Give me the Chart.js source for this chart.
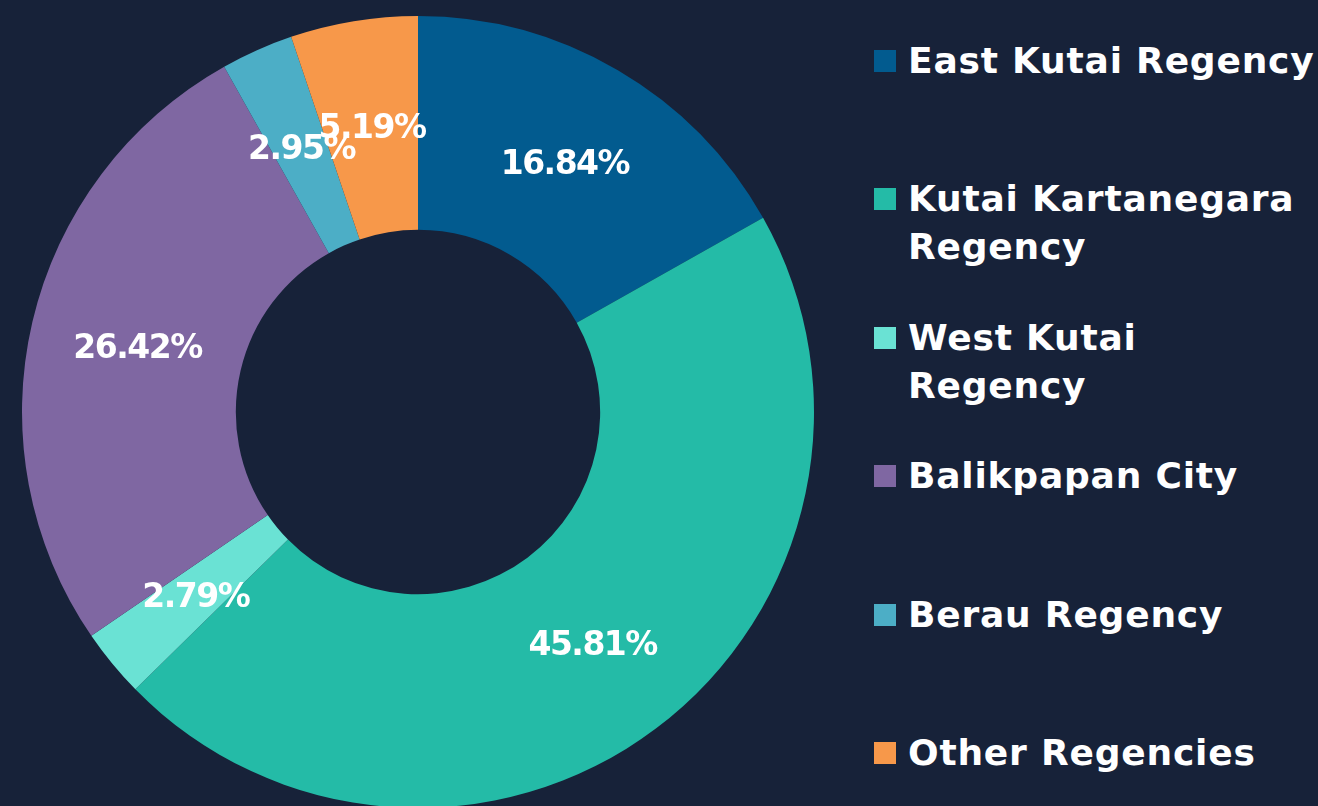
<!DOCTYPE html>
<html>
<head>
<meta charset="utf-8">
<script src="https://cdn.jsdelivr.net/npm/chart.js@4"></script>
<style>
  html, body {
    margin: 0;
    padding: 0;
    width: 1318px;
    height: 806px;
    overflow: hidden;
    background: #172239;
    font-family: "DejaVu Sans", sans-serif;
  }
  #chartBox {
    position: absolute;
    left: 0;
    top: 0;
    width: 836px;
    height: 830px;
  }
  .legend-item {
    position: absolute;
    left: 874px;
    white-space: nowrap;
  }
  .legend-box {
    position: absolute;
    left: 0;
    top: 13px;
    width: 22px;
    height: 22px;
  }
  .legend-text {
    position: absolute;
    left: 34px;
    top: 0;
    color: #ffffff;
    font-weight: 700;
    font-size: 36px;
    line-height: 48px;
    letter-spacing: 0.8px;
  }
</style>
</head>
<body>
<div id="chartBox"><canvas id="shareChart"></canvas></div>
<div id="legend"></div>
<script>
const regions = [
    "East Kutai Regency",
    ["Kutai Kartanegara", "Regency"],
    ["West Kutai", "Regency"],
    "Balikpapan City",
    "Berau Regency",
    "Other Regencies"
];

const shares = [16.84, 45.81, 2.79, 26.42, 2.95, 5.19];

const sliceColors = [
    "#025b8f",
    "#24bba7",
    "#6ae2d4",
    "#7f67a2",
    "#4caec6",
    "#f7984a"
];

// percentage labels in the middle of every slice
const sliceLabels = {
    id: "sliceLabels",
    afterDatasetsDraw(chart) {
        const c = chart.ctx;
        const meta = chart.getDatasetMeta(0);
        c.save();
        c.font = "700 33px 'DejaVu Sans'";
        c.letterSpacing = "-1.5px";
        c.fillStyle = "#ffffff";
        c.textAlign = "center";
        c.textBaseline = "middle";
        meta.data.forEach((arc, i) => {
            const p = arc.getCenterPoint();
            c.fillText(shares[i].toFixed(2) + "%", p.x + 1, p.y + 3);
        });
        c.restore();
    }
};

const chart = new Chart(document.getElementById("shareChart"), {
    type: "doughnut",
    data: {
        labels: regions,
        datasets: [{
            data: shares,
            backgroundColor: sliceColors,
            borderWidth: 0,
            hoverOffset: 0,
            offset: 0
        }]
    },
    options: {
        responsive: true,
        maintainAspectRatio: false,
        animation: false,
        cutout: "46%",
        layout: {
            padding: { top: 16, bottom: 22, left: 22, right: 22 }
        },
        plugins: {
            legend: { display: false },
            tooltip: { enabled: false }
        }
    },
    plugins: [sliceLabels]
});

// html legend on the right
const legend = document.getElementById("legend");

regions.forEach((label, i) => {
    const lines = Array.isArray(label) ? label : [label];
    const item = document.createElement("div");
    item.className = "legend-item";
    item.style.top = (37 + i * 138.4) + "px";
    item.innerHTML = `
        <div class="legend-box" style="background:${sliceColors[i]}"></div>
        <div class="legend-text">${lines.join("<br>")}</div>
    `;
    legend.appendChild(item);
});
</script>
</body>
</html>
